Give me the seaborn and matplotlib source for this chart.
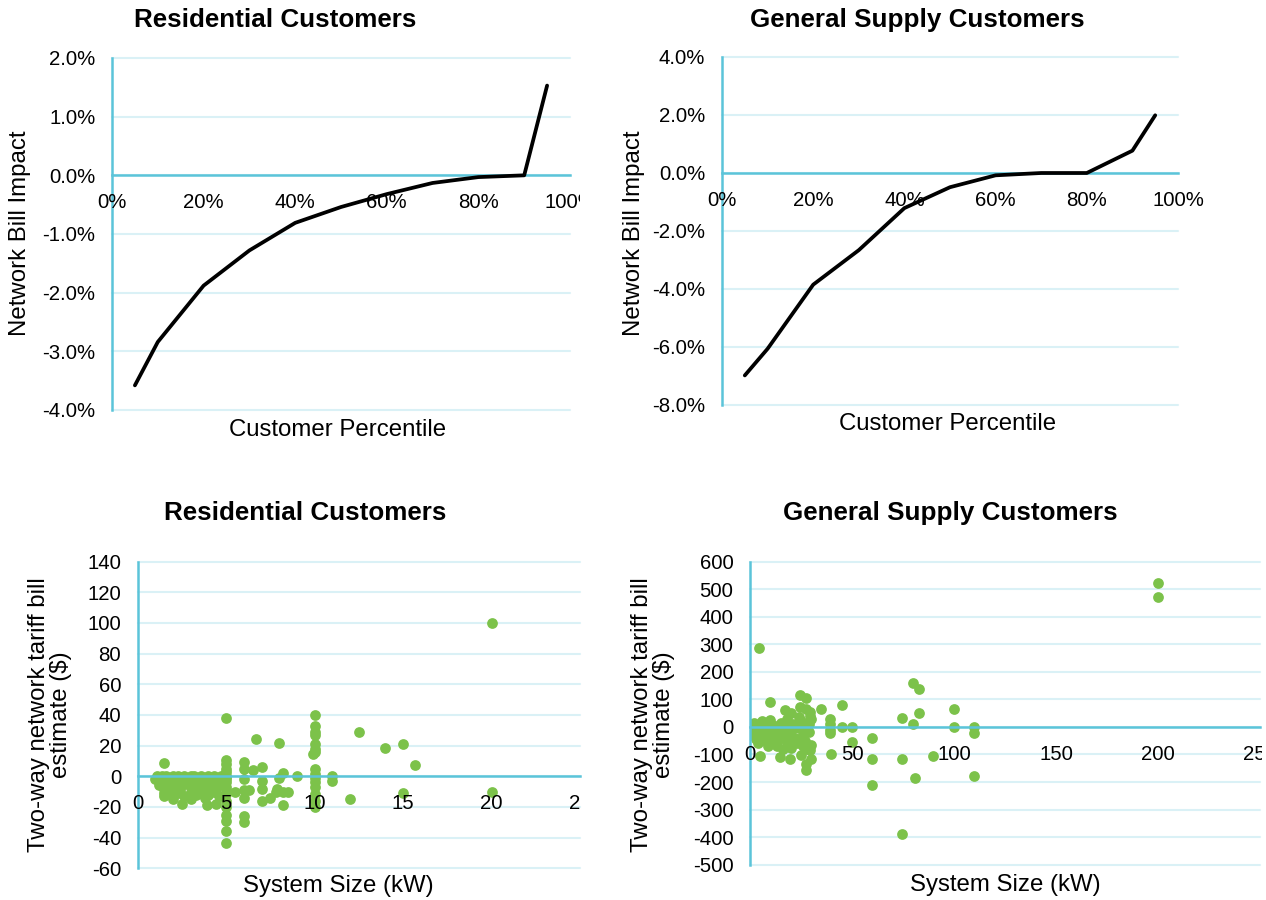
import numpy as np
import pandas as pd
import matplotlib
matplotlib.use("Agg")
import matplotlib.pyplot as plt
import seaborn as sns
from matplotlib.ticker import MultipleLocator, FuncFormatter
from matplotlib.transforms import Bbox, TransformedBbox

# ---------------- data ----------------
percentiles = [0.05, 0.10, 0.20, 0.30, 0.40, 0.50, 0.60, 0.70, 0.80, 0.90, 0.95]
res_impact = [-3.58, -2.84, -1.88, -1.28, -0.81, -0.54, -0.32, -0.13, -0.03, 0.0, 1.53]
gs_impact = [-6.98, -6.06, -3.85, -2.66, -1.21, -0.49, -0.08, 0.0, 0.0, 0.77, 1.99]

res_size = [
    1.0, 1.1, 1.2, 1.3, 1.4, 1.5, 1.6, 1.7, 1.8, 2.0, 2.1, 2.2, 2.3, 2.5, 2.6, 2.7, 2.8, 3.0,
    3.1, 3.2, 3.3, 3.5, 3.6, 3.7, 3.8, 4.0, 4.1, 4.2, 4.3, 4.5, 4.6, 4.7, 4.8,
    1.2, 1.5, 1.7, 2.0, 2.2, 2.4, 2.7, 3.0, 3.2, 3.4, 3.6, 3.9, 4.0, 4.2, 4.4, 4.7,
    1.5, 1.8, 2.0, 2.3, 2.6, 3.0, 3.3, 3.5, 3.8, 4.0, 4.3, 4.6,
    1.5, 2.0, 2.5, 3.0, 3.9, 4.4, 1.5,
    5.0, 5.0, 5.0, 5.0, 5.0, 5.0, 5.0, 5.0, 5.0, 5.0, 5.0, 5.0, 5.0, 5.0, 5.0, 5.0, 5.0, 5.0,
    5.5, 6.0, 6.0, 6.0, 6.0, 6.0, 6.0, 6.0, 6.3, 6.5, 6.7, 7.0, 7.0, 7.0, 7.0, 7.5, 7.8,
    8.0, 8.0, 8.2, 7.9, 8.2, 8.2, 8.5, 9.0,
    10.0, 10.0, 10.0, 10.0, 10.0, 10.0, 10.0, 9.9, 10.0, 10.0, 10.0, 10.0, 10.0, 10.0, 10.0, 10.0,
    11.0, 11.0, 12.0, 12.5, 14.0, 15.0, 15.0, 15.7, 20.0, 20.0,
]
res_bill = [
    -2, 0, -1, -3, 0, -2, 0, -1, -3, 0, -2, -1, 0, -2, 0, -3, -1, 0,
    -2, 0, -1, -3, 0, -2, -1, 0, -3, -1, 0, -2, -1, 0, -3,
    -6, -8, -5, -7, -6, -9, -5, -7, -8, -6, -5, -9, -7, -6, -8, -5,
    -11, -10, -12, -11, -13, -10, -12, -11, -14, -12, -10, -13,
    -13, -15, -18, -15, -19, -18, 8.5,
    38, 10.5, 8, 5, 2.6, 0, -0.7, -2, -4, -7, -11.5, -16, -20, -25, -29, -35.5, -43.7, -9,
    -10, 9, 5, -2, -9, -14, -26, -30, -9, 4, 24, 6, -3, -8, -16, -14, -10,
    22, -1, 2, -8, -10, -19, -10.5, 0,
    40, 33, 29, 27, 21, 18, 16, 14.5, 5, 1.5, -1, -4, -7, -11.5, -16, -20,
    0, -3, -15, 29, 18.5, 21, -11, 7.6, 100, -10,
]

gs_size = [
    4.6, 9.8, 17, 20, 24.5, 27.5, 24.5, 27.6, 29.4, 29.5, 34.6, 45, 39, 39, 39, 39, 45, 50, 50,
    60, 60, 60, 39.7, 74.7, 74.7, 74.7, 79.7, 82.7, 82.7, 79.7, 81, 89.9, 100, 100, 110, 110,
    110, 4.9, 14.7, 19.6, 24.8, 27.5, 27.5, 29.4, 30, 200, 200,
    1, 2, 3, 1.5, 2.5, 4, 5, 6, 7, 8, 9, 10, 11, 12, 13, 14, 15, 16, 17, 18, 19, 20, 21, 22,
    23, 24, 25, 26, 27, 28, 29, 30, 30, 28, 26, 5, 8, 12, 3, 7, 10, 15, 18, 22, 13, 6, 2, 1,
    4, 9, 16, 20, 11, 24, 29,
]
gs_bill = [
    287, 92, 60, 50, 115, 105, 72, 66, 54, 40, 66, 78, 30, 12, -12, -22, 0, 0, -54,
    -42, -115, -211, -99, 34, -117, -389, 159, 136, 52, 10, -187, -105, 64, 0, 0, -22,
    -178, -105, -109, -117, -103, -133, -157, -85, -118, 522, 473,
    0, -10, 5, -30, -20, -5, 10, -15, -25, 0, 15, -8, -35, -20, 5, -45, -10, -25, 0, -55,
    -30, -15, 10, -40, -60, -5, 20, -30, -50, 0, -20, 30, -65, -80, -70, -40, -50, -60, -45,
    -5, 25, 15, 30, 0, -70, 20, 15, -20, -60, -70, -80, -75, 8, 35, 10,
]

titles = ["Residential Customers", "General Supply Customers"]
pct_ticks = [0, 0.2, 0.4, 0.6, 0.8, 1.0]

# ---------------- style ----------------
sns.set_style("white")
plt.rcParams["font.family"] = ["Liberation Sans", "DejaVu Sans"]

AXC = "#5BC4D9"
GRID = "#DAF1F6"
GREEN = "#7CC24A"
TICK_FS = 14.67
LAB_FS = 17.3
TITLE_FS = 18.7

W, H = 1266, 900
fig = plt.figure(figsize=(W / 100, H / 100), dpi=100)


def add_ax(l, t, r, b):
    return fig.add_axes([l / W, 1 - b / H, (r - l) / W, (b - t) / H])


def style(ax, xlim, ylim, ystep, xticks, xfmt, yfmt):
    ax.set_xlim(xlim)
    ax.set_ylim(ylim)
    ax.set_xticks(xticks)
    ax.yaxis.set_major_locator(MultipleLocator(ystep))
    ax.xaxis.set_major_formatter(FuncFormatter(xfmt))
    ax.yaxis.set_major_formatter(FuncFormatter(yfmt))
    for s in ["top", "right"]:
        ax.spines[s].set_visible(False)
    ax.spines["left"].set_color(AXC)
    ax.spines["left"].set_linewidth(1.8)
    ax.spines["bottom"].set_position(("data", 0))
    ax.spines["bottom"].set_color(AXC)
    ax.spines["bottom"].set_linewidth(1.8)
    ax.grid(False)
    # light horizontal gridlines drawn beneath the data
    yv = ylim[0]
    while yv <= ylim[1] + 1e-9:
        ax.axhline(yv, color=GRID, lw=1.5, zorder=0.3, clip_on=False)
        yv += ystep
    ax.set_axisbelow(False)
    ax.tick_params(axis="both", length=0, labelsize=TICK_FS, colors="black")
    ax.tick_params(axis="y", pad=12)
    ax.tick_params(axis="x", pad=13)
    ax.set_xlabel("")
    ax.set_ylabel("")


def pctfmt1(v, p):
    v = 0.0 if abs(v) < 1e-9 else v
    return f"{v:.1f}%"


def pctfmt0(v, p):
    return f"{v*100:.0f}%"


def numfmt(v, p):
    v = 0 if abs(v) < 1e-9 else v
    return f"{v:.0f}"


# top-left
ax1 = add_ax(112, 58, 570, 410)
sns.lineplot(x=percentiles, y=res_impact, ax=ax1, color="black", lw=2.7, zorder=4)
style(ax1, (0, 1.0), (-4, 2), 1.0, pct_ticks, pctfmt0, pctfmt1)

# top-right
ax2 = add_ax(722, 57, 1178, 405)
sns.lineplot(x=percentiles, y=gs_impact, ax=ax2, color="black", lw=2.7, zorder=4)
style(ax2, (0, 1.0), (-8, 4), 2.0, pct_ticks, pctfmt0, pctfmt1)

# bottom-left
ax3 = add_ax(137.7, 561.5, 580, 868.3)
sns.scatterplot(x=res_size, y=res_bill, ax=ax3, color=GREEN, s=60, linewidth=0, zorder=1)
style(ax3, (0, 25), (-60, 140), 20, [0, 5, 10, 15, 20, 25], numfmt, numfmt)

# bottom-right
ax4 = add_ax(750, 561.5, 1260, 864.7)
sns.scatterplot(x=gs_size, y=gs_bill, ax=ax4, color=GREEN, s=60, linewidth=0, zorder=1)
style(ax4, (0, 250), (-500, 600), 100, [0, 50, 100, 150, 200, 250], numfmt, numfmt)

# titles and labels
def ftext(x, y, s, **kw):
    fig.text(x / W, 1 - y / H, s, ha="center", va="center", color="black", **kw)

ftext(275, 20, titles[0], fontsize=TITLE_FS, fontweight="bold")
ftext(917, 20, titles[1], fontsize=TITLE_FS, fontweight="bold")
ftext(305, 513, titles[0], fontsize=TITLE_FS, fontweight="bold")
ftext(950, 513, titles[1], fontsize=TITLE_FS, fontweight="bold")

ftext(338, 430, "Customer Percentile", fontsize=LAB_FS)
ftext(948, 424, "Customer Percentile", fontsize=LAB_FS)
ftext(338, 886, "System Size (kW)", fontsize=LAB_FS)
ftext(1005, 885, "System Size (kW)", fontsize=LAB_FS)

ftext(20, 233, "Network Bill Impact", fontsize=LAB_FS, rotation=90)
ftext(634, 233, "Network Bill Impact", fontsize=LAB_FS, rotation=90)
ftext(50, 715, "Two-way network tariff bill\nestimate ($)", fontsize=LAB_FS,
      rotation=90, multialignment="center", linespacing=1.05)
ftext(653, 715, "Two-way network tariff bill\nestimate ($)", fontsize=LAB_FS,
      rotation=90, multialignment="center", linespacing=1.05)

# clip the last x tick labels like the original chart frames do
fig.canvas.draw()
clip_l = TransformedBbox(Bbox.from_extents(0, 0, 580 / W, 1), fig.transFigure)
clip_r = TransformedBbox(Bbox.from_extents(0, 0, 1262 / W, 1), fig.transFigure)
for ax, cb in ((ax1, clip_l), (ax3, clip_l), (ax4, clip_r)):
    for t in ax.xaxis.get_major_ticks():
        t.label1.set_clip_on(True)
        t.label1.set_clip_box(cb)

fig.savefig("out.png", dpi=100)
